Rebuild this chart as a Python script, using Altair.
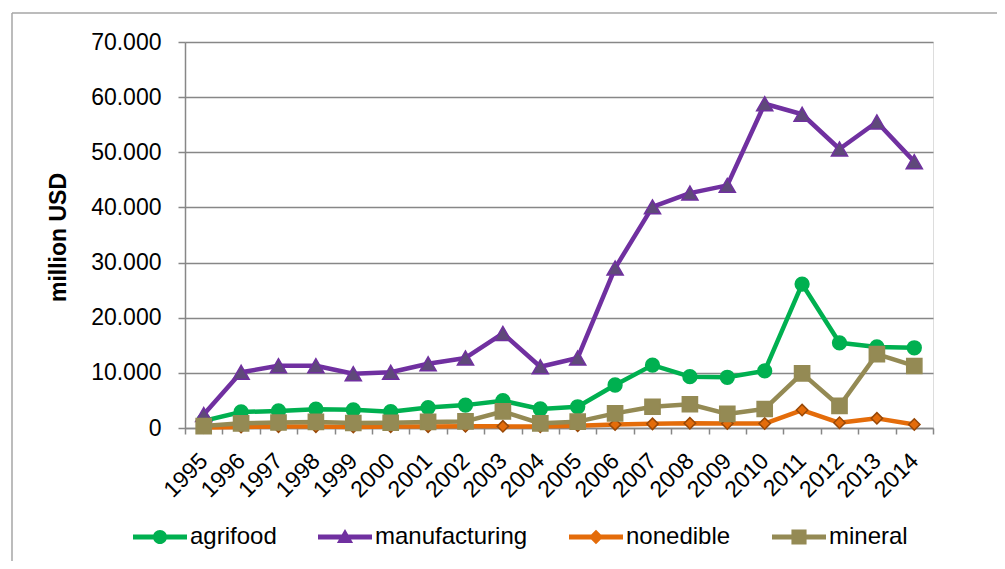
import altair as alt
import pandas as pd

years = [str(y) for y in range(1995, 2015)]
series = ["agrifood", "manufacturing", "nonedible", "mineral"]

agrifood = [1300, 2900, 3100, 3400, 3300, 2950, 3700, 4150, 4950, 3450,
            3850, 7800, 11400, 9300, 9200, 10350, 26100, 15450, 14700, 14550]
manufacturing = [2450, 10100, 11300, 11300, 9850, 10100, 11650, 12700, 17150, 11100,
                 12700, 29000, 40100, 42600, 44000, 58800, 56900, 50600, 55500, 48300]
nonedible = [100, 200, 250, 250, 200, 250, 250, 300, 300, 250,
             400, 650, 750, 850, 800, 800, 3250, 950, 1750, 650]
mineral = [350, 850, 1000, 1100, 900, 950, 1100, 1200, 3000, 850,
           1150, 2650, 3850, 4300, 2550, 3450, 9900, 4000, 13400, 11250]

line_colors = ["#00B050", "#7030A0", "#E46C0A", "#948A54"]
marker_fill = ["#00B050", "#5F497A", "#E46C0A", "#948A54"]
marker_stroke = ["#00B050", "#7030A0", "#984807", "#948A54"]
marker_shape = ["circle", "triangle-up", "diamond", "square"]
marker_size = [190, 260, 130, 230]

legend_paths = [
    "M-1,-0.09H1V0.09H-1Z M0.26,0A0.26,0.26 0 1,1 -0.26,0A0.26,0.26 0 1,1 0.26,0Z",
    "M-1,-0.09H1V0.09H-1Z M0,-0.3L0.3,0.22L-0.3,0.22Z",
    "M-1,-0.09H1V0.09H-1Z M0,-0.27L0.27,0L0,0.27L-0.27,0Z",
    "M-1,-0.09H1V0.09H-1Z M-0.28,-0.28L0.28,-0.28L0.28,0.28L-0.28,0.28Z",
]

rows = []
for s, vals in zip(series, [agrifood, manufacturing, nonedible, mineral]):
    for y, v in zip(years, vals):
        rows.append({"series": s, "year": y, "value": v})
df = pd.DataFrame(rows)

FONT = "Liberation Sans"
GRID = "#878787"

x_axis = alt.Axis(title=None, labelAngle=315, labelAlign="right", labelBaseline="middle",
                  tickBand="extent", tickSize=6, tickColor=GRID, tickWidth=1.5,
                  domainColor=GRID, domainWidth=1.5, grid=False, labelPadding=23,
                  labelFont=FONT, labelFontSize=23, labelColor="#000000")
y_axis = alt.Axis(values=list(range(0, 70001, 10000)),
                  labelExpr="datum.value == 0 ? '0' : replace(format(datum.value, ','), ',', '.')",
                  grid=True, gridColor=GRID, gridWidth=1.5, domainColor=GRID, domainWidth=1.5,
                  tickColor=GRID, tickWidth=1.5, tickSize=7, labelPadding=17,
                  labelFont=FONT, labelFontSize=23, labelColor="#000000",
                  title="million USD", titleFont=FONT, titleFontSize=23, titleFontWeight="bold",
                  titleColor="#000000", titleX=-127, titleY=195, titleAngle=270,
                  titleAlign="center", titleBaseline="middle")

x_enc = alt.X("year:O", scale=alt.Scale(type="band", paddingInner=0, paddingOuter=0), axis=x_axis)
y_enc = alt.Y("value:Q", scale=alt.Scale(domain=[0, 70000]), axis=y_axis)

leg = alt.Legend(orient="none", legendX=-52, legendY=468, direction="horizontal", title=None,
                 labelFont=FONT, labelFontSize=24, labelColor="#000000", labelOffset=3,
                 labelLimit=300, columnPadding=41, symbolSize=2916, symbolOpacity=1,
                 symbolStrokeWidth=0, padding=0)

legend_layer = alt.Chart(df).mark_point(filled=True, opacity=0).encode(
    x=x_enc, y=y_enc,
    color=alt.Color("series:N", scale=alt.Scale(domain=series, range=line_colors), legend=leg),
    shape=alt.Shape("series:N", scale=alt.Scale(domain=series, range=legend_paths), legend=leg),
)

frame = pd.DataFrame({"b": [0]})
border_left = alt.Chart(frame).mark_rule(stroke="#A6A6A6", strokeWidth=1.5).encode(
    x=alt.value(-173), y=alt.value(-29), y2=alt.value(540))
border_top = alt.Chart(frame).mark_rule(stroke="#A6A6A6", strokeWidth=1.5).encode(
    x=alt.value(-173), x2=alt.value(840), y=alt.value(-29))

layers = [border_left, border_top, legend_layer]
for i, s in enumerate(series):
    base = alt.Chart(df).transform_filter(alt.datum.series == s).encode(x=x_enc, y=y_enc)
    layers.append(base.mark_line(color=line_colors[i], strokeWidth=4.5,
                                 strokeJoin="round", strokeCap="round"))
    layers.append(base.mark_point(shape=marker_shape[i], size=marker_size[i], filled=True,
                                  fill=marker_fill[i], stroke=marker_stroke[i],
                                  strokeWidth=1.5, opacity=1))

chart = alt.layer(*layers).properties(
    width=748, height=386,
    padding={"left": 177, "top": 34, "right": 64, "bottom": 133},
    autosize=alt.AutoSizeParams(type="none"),
).configure_view(stroke=None).configure(background="white")

chart.save("out.html", embed_options={"renderer": "svg", "actions": False})
